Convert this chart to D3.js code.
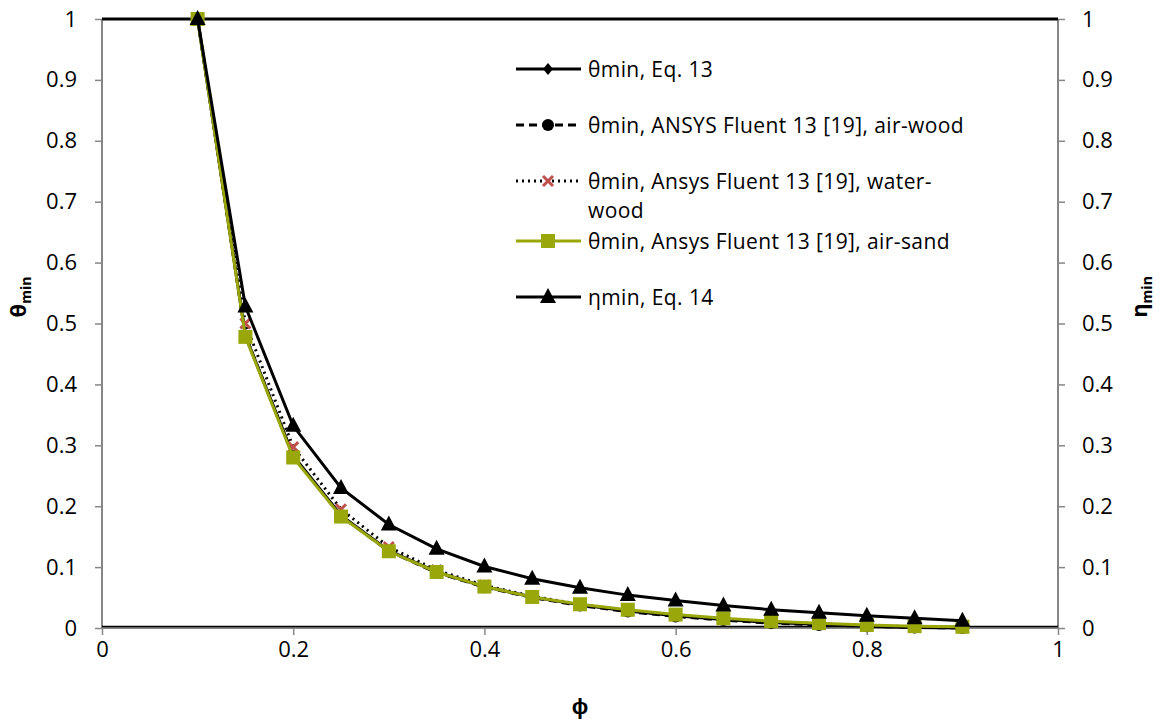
<!DOCTYPE html>
<html lang="en">
<head>
<meta charset="UTF-8">
<title>theta min / eta min vs phi</title>
<script src="https://d3js.org/d3.v7.min.js"></script>
<style>
  body { margin: 0; background: #fff; }
  text { font-family: "Open Sans", "Liberation Sans", sans-serif; }
</style>
</head>
<body>
<svg id="chart" width="1163" height="724"></svg>
<script>
// phi values shared by every series
const phi = [0.1, 0.15, 0.2, 0.25, 0.3, 0.35, 0.4, 0.45, 0.5, 0.55, 0.6, 0.65, 0.7, 0.75, 0.8, 0.85, 0.9];

const thetaEq13   = [1, 0.480, 0.283, 0.185, 0.127, 0.092, 0.068, 0.051, 0.038, 0.028, 0.020, 0.014, 0.009, 0.006, 0.003, 0.001, 0.000];
const thetaAirWood = [1, 0.480, 0.282, 0.184, 0.126, 0.091, 0.067, 0.050, 0.037, 0.027, 0.019, 0.013, 0.008, 0.005, 0.003, 0.001, 0.000];
const thetaWaterWood = [1, 0.500, 0.297, 0.195, 0.133, 0.095, 0.070, 0.052, 0.039, 0.029, 0.021, 0.015, 0.010, 0.007, 0.004, 0.002, 0.001];
const thetaAirSand = [1, 0.478, 0.280, 0.183, 0.126, 0.092, 0.068, 0.051, 0.039, 0.030, 0.022, 0.016, 0.011, 0.008, 0.005, 0.003, 0.002];
const etaEq14     = [1, 0.528, 0.332, 0.230, 0.170, 0.130, 0.101, 0.081, 0.066, 0.054, 0.045, 0.037, 0.030, 0.025, 0.020, 0.016, 0.012];

const leftTicks = [0, 0.1, 0.2, 0.3, 0.4, 0.5, 0.6, 0.7, 0.8, 0.9, 1];
const xTicks = [0, 0.2, 0.4, 0.6, 0.8, 1];

const series = [
  {name: "θmin, Eq. 13", values: thetaEq13, color: "#000", dash: null, marker: "diamond"},
  {name: "θmin, ANSYS Fluent 13 [19], air-wood", values: thetaAirWood, color: "#000", dash: "8,5", marker: "circle"},
  {name: ["θmin, Ansys Fluent 13 [19], water-", "wood"], values: thetaWaterWood, color: "#000", dash: "2,4", marker: "cross"},
  {name: "θmin, Ansys Fluent 13 [19], air-sand", values: thetaAirSand, color: "#99A70B", dash: null, marker: "square"},
  {name: "ηmin, Eq. 14", values: etaEq14, color: "#000", dash: null, marker: "triangle"}
];

const svg = d3.select("#chart");
const x = d3.scaleLinear().domain([0, 1]).range([102, 1058]);
const y = d3.scaleLinear().domain([0, 1]).range([628, 19]);
const yR = d3.scaleLinear().domain([0, 1]).range([628, 19]);

// axes
const fmt = d => d === 0 || d === 1 ? String(d) : d3.format(".1f")(d);
const leftAxis = svg.append("g").attr("transform", "translate(102,0)")
  .call(d3.axisLeft(y).tickValues(leftTicks).tickFormat(fmt).tickSize(7).tickPadding(18));
const rightAxis = svg.append("g").attr("transform", "translate(1058,0)")
  .call(d3.axisRight(yR).tickValues(leftTicks).tickFormat(fmt).tickSize(7).tickPadding(17));
const bottomAxis = svg.append("g").attr("transform", "translate(0,628)")
  .call(d3.axisBottom(x).tickValues(xTicks).tickFormat(fmt).tickSize(7).tickPadding(6));

[leftAxis, rightAxis, bottomAxis].forEach(g => {
  g.select(".domain").attr("stroke", "#868686").attr("stroke-width", 2);
  g.selectAll(".tick line").attr("stroke", "#868686").attr("stroke-width", 1.5);
  g.selectAll(".tick text").attr("font-size", 22).attr("fill", "#000");
});
// tick marks sit outside; strip the outer ends of the domain paths
leftAxis.select(".domain").attr("d", "M0,628V19");
rightAxis.select(".domain").attr("d", "M0,628V19");
bottomAxis.select(".domain").attr("d", "M102,0H1058");

// black frame lines at top and bottom of plot area
svg.append("line").attr("x1", 102).attr("x2", 1058).attr("y1", 19).attr("y2", 19)
  .attr("stroke", "#000").attr("stroke-width", 3);
svg.append("line").attr("x1", 102).attr("x2", 1058).attr("y1", 626.5).attr("y2", 626.5)
  .attr("stroke", "#000").attr("stroke-width", 1.5);

// axis titles
const yTitle = svg.append("text").attr("transform", "translate(26,297) rotate(-90)")
  .attr("text-anchor", "middle").attr("font-size", 22).attr("font-weight", "bold");
yTitle.append("tspan").text("θ");
yTitle.append("tspan").text("min").attr("font-size", 14).attr("dy", 5);

const rTitle = svg.append("text").attr("transform", "translate(1147,297) rotate(-90)")
  .attr("text-anchor", "middle").attr("font-size", 22).attr("font-weight", "bold");
rTitle.append("tspan").text("η");
rTitle.append("tspan").text("min").attr("font-size", 14).attr("dy", 5);

svg.append("text").attr("x", 580).attr("y", 714).attr("text-anchor", "middle")
  .attr("font-size", 22).attr("font-weight", "bold").text("ϕ");

// markers
function drawMarker(g, type, color) {
  if (type === "diamond") {
    g.append("path").attr("d", "M0,-6L5,0L0,6L-5,0Z").attr("fill", "#000");
  } else if (type === "circle") {
    g.append("circle").attr("r", 6).attr("fill", "#000");
  } else if (type === "cross") {
    g.append("path").attr("d", "M-5,-5L5,5M-5,5L5,-5").attr("stroke", "#C0504D").attr("stroke-width", 3).attr("fill", "none");
  } else if (type === "square") {
    g.append("rect").attr("x", -7).attr("y", -7).attr("width", 14).attr("height", 14).attr("fill", color);
  } else if (type === "triangle") {
    g.append("path").attr("d", "M0,-9L8,6L-8,6Z").attr("fill", "#000");
  }
}

const line = d3.line().x((d, i) => x(phi[i])).y(d => y(d));

series.forEach(s => {
  const g = svg.append("g");
  g.append("path").datum(s.values).attr("d", line).attr("fill", "none")
    .attr("stroke", s.color).attr("stroke-width", 3)
    .attr("stroke-dasharray", s.dash);
  s.values.forEach((v, i) => {
    const m = g.append("g").attr("transform", `translate(${x(phi[i])},${y(v)})`);
    drawMarker(m, s.marker, s.color);
  });
});

// legend
const legendRows = [69, 125, 181, 241, 297];
series.forEach((s, i) => {
  const ly = legendRows[i];
  const g = svg.append("g");
  g.append("line").attr("x1", 516).attr("x2", 581).attr("y1", ly).attr("y2", ly)
    .attr("stroke", s.color).attr("stroke-width", 3).attr("stroke-dasharray", s.dash);
  const m = g.append("g").attr("transform", `translate(548,${ly})`);
  drawMarker(m, s.marker, s.color);
  const lines = Array.isArray(s.name) ? s.name : [s.name];
  lines.forEach((t, j) => {
    g.append("text").attr("x", 588).attr("y", ly + 8 + j * 29).attr("font-size", 21)
      .attr("letter-spacing", 0.4).text(t);
  });
});
</script>
</body>
</html>
